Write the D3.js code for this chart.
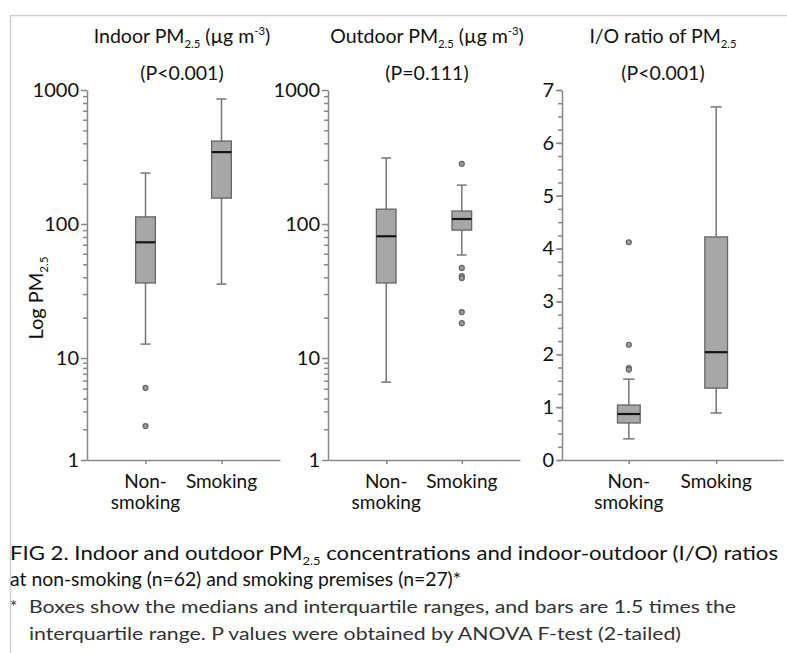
<!DOCTYPE html>
<html>
<head>
<meta charset="utf-8">
<script src="https://cdn.jsdelivr.net/npm/d3@7"></script>
<style>
  body { margin: 0; background: #fff; }
  svg { display: block; }
</style>
</head>
<body>
<script>
// categories
var groups = ["Non-smoking", "Smoking"];

// five-number summaries: [lower whisker, Q1, median, Q3, upper whisker]
var indoorBoxes = [[12.7, 36.3, 73, 113, 240], [35.6, 156, 344, 416, 857]];
var outdoorBoxes = [[5.8, 36.3, 81, 129, 311], [58.7, 90, 109, 125, 195]];
var ratioBoxes = [[0.40, 0.70, 0.87, 1.04, 1.53], [0.89, 1.36, 2.04, 4.22, 6.68]];

// outliers per group
var indoorOutliers = [[5.1, 2.15], []];
var outdoorOutliers = [[], [281, 47, 40.9, 39.5, 22.0, 18.2]];
var ratioOutliers = [[4.12, 2.18, 1.74, 1.71], []];

// tick labels
var logTicks = [1, 10, 100, 1000];
var ratioTicks = [0, 1, 2, 3, 4, 5, 6, 7];

var logMinor = [];
[1, 10, 100].forEach(function(d) {
  for (var k = 2; k <= 9; k++) logMinor.push(d * k);
});
var ratioMinor = d3.range(0, 7.001, 0.25);

var font = "Lato, 'Open Sans', sans-serif";

var svg = d3.select("body").append("svg")
    .attr("width", 787)
    .attr("height", 653)
    .style("font-family", font);

// light frame lines
svg.append("line").attr("x1", 10).attr("x2", 787).attr("y1", 15.5).attr("y2", 15.5)
    .attr("stroke", "#cfcfcf").attr("stroke-width", 1.5);
svg.append("line").attr("x1", 10.5).attr("x2", 10.5).attr("y1", 15).attr("y2", 653)
    .attr("stroke", "#cfcfcf").attr("stroke-width", 1.5);

//log scale: lowest decade is drawn compressed, as in the figure
var logY = d3.scaleLog().domain([1, 10, 1000]).range([460, 358, 90]);
var ratioY = d3.scaleLinear().domain([0, 7]).range([460, 90]);

var panels = [
  {x0: 87, x1: 280, pad: 0.77, y: logY, major: logTicks, minor: logMinor,
   boxes: indoorBoxes, outliers: indoorOutliers, titleX: 182,
   title: ["Indoor PM", "2.5", " (\u00b5g m", "-3", ")"], p: "(P<0.001)"},
  {x0: 328, x1: 520, pad: 0.77, y: logY, major: logTicks, minor: logMinor,
   boxes: outdoorBoxes, outliers: outdoorOutliers, titleX: 427,
   title: ["Outdoor PM", "2.5", " (\u00b5g m", "-3", ")"], p: "(P=0.111)"},
  {x0: 562, x1: 783, pad: 0.765, y: ratioY, major: ratioTicks, minor: ratioMinor,
   boxes: ratioBoxes, outliers: ratioOutliers, titleX: 663,
   title: ["I/O ratio of PM", "2.5"], p: "(P<0.001)"}
];

function styleAxis(s) {
  s.attr("font-family", font).attr("font-size", 20);
  s.selectAll("line, path").attr("stroke", "#888").attr("stroke-width", 1.5);
  s.selectAll("text").attr("fill", "#111");
}

// writes text with alternating normal / sub / super parts
function richText(sel, parts, size, kinds) {
  parts.forEach(function(t, i) {
    var k = kinds[i];
    var prev = i > 0 ? kinds[i - 1] : "n";
    var dy = 0;
    if (prev == "sub") dy -= 5;
    if (prev == "sup") dy += 8;
    if (k == "sub") dy += 5;
    if (k == "sup") dy -= 8;
    sel.append("tspan")
      .attr("dy", dy)
      .attr("font-size", k == "n" ? size : size * 0.58)
      .text(t);
  });
}

panels.forEach(function(p) {
  var x = d3.scalePoint().domain(groups).range([p.x0, p.x1]).padding(p.pad);
  var y = p.y;
  var g = svg.append("g");
  var bw = x.step() * 0.26;

  //minor ticks
  g.append("g")
    .attr("transform", "translate(" + p.x0 + ",0)")
    .call(d3.axisLeft(y).tickValues(p.minor).tickSize(4).tickFormat(""))
    .call(styleAxis)
    .call(function(s) { s.select(".domain").remove(); });

  //major ticks + labels
  g.append("g")
    .attr("transform", "translate(" + p.x0 + ",0)")
    .call(d3.axisLeft(y).tickValues(p.major).tickSize(6).tickSizeOuter(0)
      .tickPadding(2).tickFormat(d3.format("d")))
    .call(styleAxis);

  //x axis
  g.append("g")
    .attr("transform", "translate(0," + y.range()[0] + ")")
    .call(d3.axisBottom(x).tickSize(4).tickSizeOuter(0).tickFormat(""))
    .call(styleAxis);

  //category labels
  var lab = g.append("g").attr("font-size", 19).attr("text-anchor", "middle").attr("fill", "#111");
  lab.append("text").attr("x", x(groups[0])).attr("y", 488).text("Non-");
  lab.append("text").attr("x", x(groups[0])).attr("y", 509).text("smoking");
  lab.append("text").attr("x", x(groups[1])).attr("y", 488).text(groups[1]);

  //boxes
  groups.forEach(function(grp, i) {
    var s = p.boxes[i], cx = x(grp);
    g.append("line")
      .attr("x1", cx).attr("x2", cx)
      .attr("y1", y(s[0])).attr("y2", y(s[4]))
      .attr("stroke", "#777").attr("stroke-width", 1.5);
    [s[0], s[4]].forEach(function(v) {
      g.append("line")
        .attr("x1", cx - bw / 4).attr("x2", cx + bw / 4)
        .attr("y1", y(v)).attr("y2", y(v))
        .attr("stroke", "#777").attr("stroke-width", 1.5);
    });
    g.append("rect")
      .attr("x", cx - bw / 2).attr("width", bw)
      .attr("y", y(s[3])).attr("height", y(s[1]) - y(s[3]))
      .attr("fill", "#a7a7a7").attr("stroke", "#666").attr("stroke-width", 1.3);
    g.append("line")
      .attr("x1", cx - bw / 2).attr("x2", cx + bw / 2)
      .attr("y1", y(s[2])).attr("y2", y(s[2]))
      .attr("stroke", "#151515").attr("stroke-width", 2.2);
    g.selectAll(null)
      .data(p.outliers[i])
      .enter()
      .append("circle")
      .attr("cx", cx).attr("cy", function(d) { return y(d); })
      .attr("r", 2.5)
      .attr("fill", "#9a9a9a").attr("stroke", "#666").attr("stroke-width", 1.2);
  });

  //titles
  var kinds = p.title.length == 5 ? ["n", "sub", "n", "sup", "n"] : ["n", "sub"];
  var t = g.append("text").attr("x", p.titleX).attr("y", 43)
    .attr("text-anchor", "middle").attr("fill", "#111");
  richText(t, p.title, 19.5, kinds);
  g.append("text").attr("x", p.titleX).attr("y", 80)
    .attr("text-anchor", "middle").attr("font-size", 19.5).attr("fill", "#111")
    .text(p.p);
});

// y axis title
var yt = svg.append("text")
  .attr("transform", "translate(43,298) rotate(-90)")
  .attr("text-anchor", "middle").attr("fill", "#111");
richText(yt, ["Log PM", "2.5"], 20, ["n", "sub"]);

// caption
var c1 = svg.append("text").attr("x", 10).attr("y", 560).attr("fill", "#111")
  .attr("textLength", 768).attr("lengthAdjust", "spacingAndGlyphs");
richText(c1, ["FIG 2.  Indoor and outdoor PM", "2.5", " concentrations and indoor-outdoor (I/O) ratios"], 19, ["n", "sub", "n"]);
svg.append("text").attr("x", 10).attr("y", 586).attr("fill", "#111")
  .attr("font-size", 19)
  .attr("textLength", 451).attr("lengthAdjust", "spacingAndGlyphs")
  .text("at non-smoking (n=62) and smoking premises (n=27)*");

// footnote
var foot = svg.append("g").attr("font-size", 17).attr("fill", "#333");
foot.append("text").attr("x", 10).attr("y", 613).text("*");
foot.append("text").attr("x", 29).attr("y", 613)
  .attr("textLength", 707).attr("lengthAdjust", "spacingAndGlyphs")
  .text("Boxes show the medians and interquartile ranges, and bars are 1.5 times the");
foot.append("text").attr("x", 29).attr("y", 640)
  .attr("textLength", 652).attr("lengthAdjust", "spacingAndGlyphs")
  .text("interquartile range. P values were obtained by ANOVA F-test (2-tailed)");
</script>
</body>
</html>
